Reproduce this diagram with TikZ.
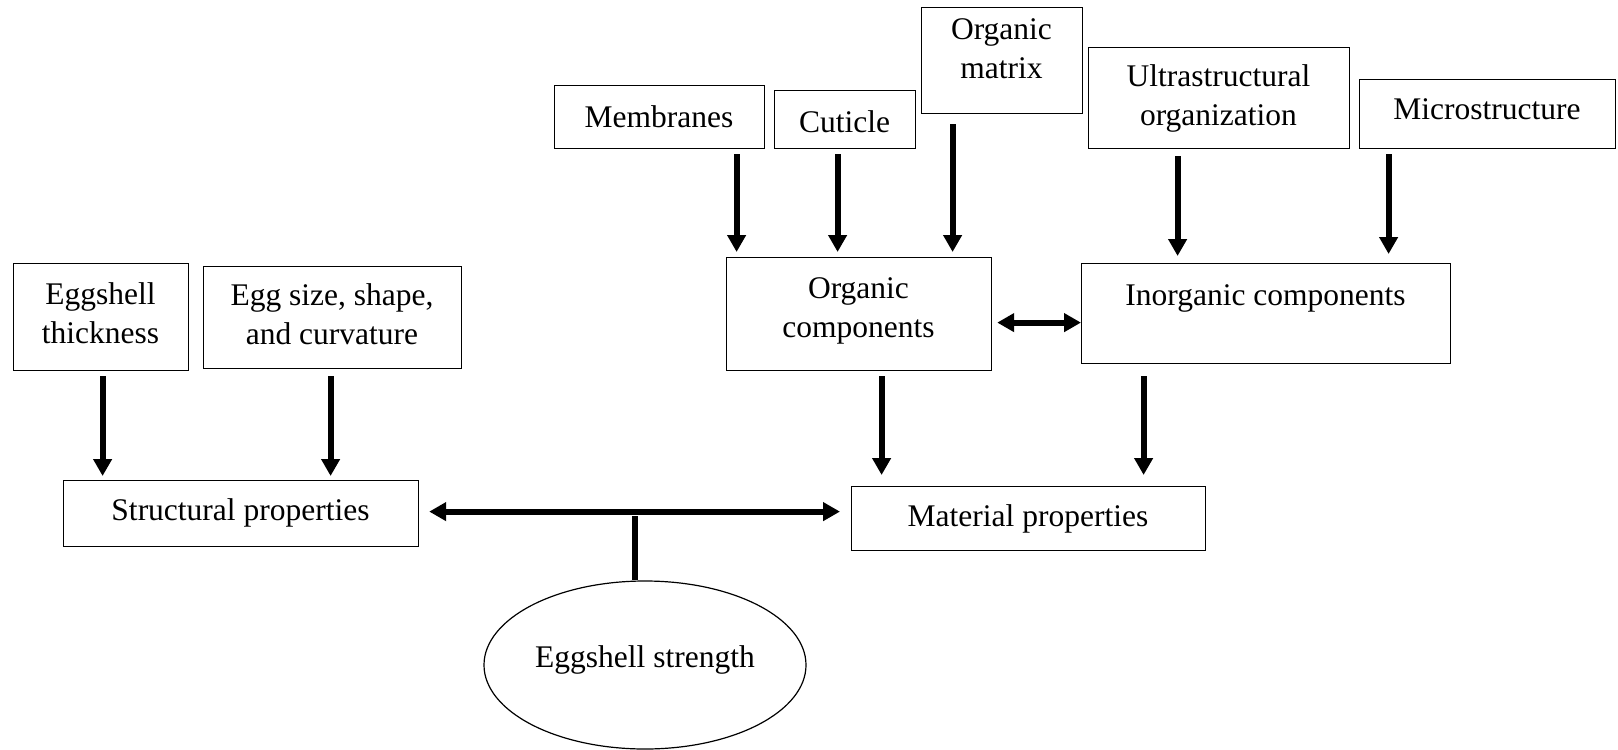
\documentclass[tikz,border=0pt]{standalone}
\usepackage{fontspec}
\setmainfont{Liberation Serif}
\usetikzlibrary{arrows.meta,shapes.geometric}
\begin{document}
\begin{tikzpicture}[x=1pt,y=-1pt,
  box/.style={draw, line width=1.2pt, inner sep=0pt, anchor=north west},
  txt/.style={font=\fontsize{31.5}{39}\selectfont, align=center, inner sep=0pt, anchor=base},
  arr/.style={line width=6pt, -{Triangle[width=18pt,length=17pt]}},
  darr/.style={line width=6pt, {Triangle[width=18pt,length=17pt]}-{Triangle[width=18pt,length=17pt]}}]
\useasboundingbox (0,0) rectangle (1618,750);
% boxes
\node[box, minimum width=175pt, minimum height=107pt] (thick) at (13,263) {};
\node[box, minimum width=258pt, minimum height=102pt] (size) at (203,266) {};
\node[box, minimum width=355pt, minimum height=66pt] (struct) at (63,480) {};
\node[box, minimum width=210pt, minimum height=63pt] (memb) at (554,85) {};
\node[box, minimum width=141pt, minimum height=58pt] (cut) at (774,90) {};
\node[box, minimum width=161pt, minimum height=106pt] (omat) at (921,7) {};
\node[box, minimum width=261pt, minimum height=101pt] (ultra) at (1088,47) {};
\node[box, minimum width=256pt, minimum height=69pt] (micro) at (1359,79) {};
\node[box, minimum width=265pt, minimum height=113pt] (org) at (726,257) {};
\node[box, minimum width=369pt, minimum height=100pt] (inorg) at (1081,263) {};
\node[box, minimum width=354pt, minimum height=64pt] (mat) at (851,486) {};
\node[draw, ellipse, line width=1.2pt, minimum width=322pt, minimum height=168pt, inner sep=0pt] (ell) at (645,665) {};
% texts
\node[txt] (thickT) at (100.5,343) {Eggshell\\thickness};
\node[txt] (sizeT) at (332,344) {Egg size, shape,\\and curvature};
\node[txt] (structT) at (240.5,520) {Structural properties};
\node[txt] (membT) at (659,127) {Membranes};
\node[txt] (cutT) at (844.5,132) {Cuticle};
\node[txt] (omatT) at (1001.5,78) {Organic\\matrix};
\node[txt] (ultraT) at (1218.5,125) {Ultrastructural\\organization};
\node[txt] (microT) at (1487,119) {Microstructure};
\node[txt] (orgT) at (858.5,337) {Organic\\components};
\node[txt] (inorgT) at (1265.5,305) {Inorganic components};
\node[txt] (matT) at (1028,526) {Material properties};
\node[txt] (ellT) at (645,667) {Eggshell strength};
% arrows
\draw[arr] ([shift={(1.5,5)}]thick.south) -- ([shift={(-138.5,-4)}]struct.north);
\draw[arr] ([shift={(-2,7)}]size.south) -- ([shift={(89.5,-4)}]struct.north);
\draw[arr] ([shift={(77,5)}]memb.south) -- ([shift={(-122.5,-5)}]org.north);
\draw[arr] ([shift={(-7.5,5)}]cut.south) -- ([shift={(-21.5,-5)}]org.north);
\draw[arr] ([shift={(-49.5,10)}]omat.south) -- ([shift={(93.5,-5)}]org.north);
\draw[arr] ([shift={(-41.5,7)}]ultra.south) -- ([shift={(-88.5,-7)}]inorg.north);
\draw[arr] ([shift={(-99,5)}]micro.south) -- ([shift={(122.5,-9)}]inorg.north);
\draw[arr] ([shift={(22.5,5)}]org.south) -- ([shift={(-147,-11)}]mat.north);
\draw[arr] ([shift={(-122.5,12)}]inorg.south) -- ([shift={(115,-11)}]mat.north);
\draw[darr] ([shift={(5,8.5)}]org.east) -- ([shift={(0,9)}]inorg.west);
\draw[darr] ([shift={(10,-2)}]struct.east) -- ([shift={(-11,-7)}]mat.west);
\coordinate (j) at (635,516);
\draw[line width=6pt] (j) -- (j |- ell.north);
\end{tikzpicture}
\end{document}
